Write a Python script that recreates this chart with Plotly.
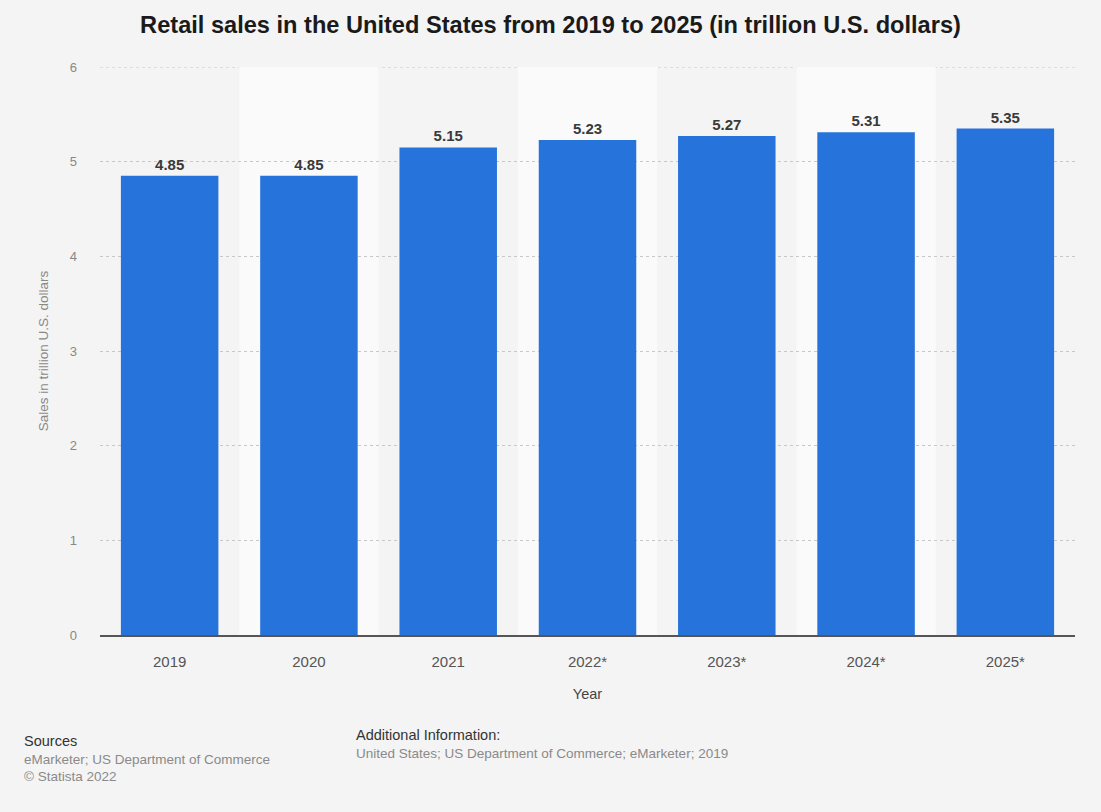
import plotly.graph_objects as go

years = ["2019", "2020", "2021", "2022*", "2023*", "2024*", "2025*"]
sales = [4.85, 4.85, 5.15, 5.23, 5.27, 5.31, 5.35]
y_ticks = [0, 1, 2, 3, 4, 5, 6]

BG = "#f4f4f4"
BAND = "#fafafa"
BAR = "#2673dc"
FONT = "Liberation Sans, Arial, sans-serif"

fig = go.Figure()
fig.add_trace(go.Bar(
    x=list(range(len(years))),
    y=sales,
    marker=dict(color=BAR, line=dict(width=0)),
    width=0.7,
    text=[f"{v:.2f}" for v in sales],
    textposition="outside",
    textfont=dict(family=FONT, size=15, color="#3a3a3a"),
    texttemplate="<b>%{text}</b>",
    cliponaxis=False,
    hoverinfo="skip",
))

# alternating column bands plus the top gridline
shapes = []
for i in range(len(years)):
    if i % 2 == 1:
        shapes.append(dict(type="rect", xref="x", yref="y", x0=i - 0.5, x1=i + 0.5,
                           y0=0, y1=max(y_ticks), fillcolor=BAND, line=dict(width=0), layer="below"))
shapes.append(dict(type="line", xref="paper", yref="y", x0=0, x1=1, y0=max(y_ticks), y1=max(y_ticks),
                   line=dict(color="#c8c8c8", width=1, dash="dot"), layer="below"))

fig.update_layout(
    width=1101, height=812,
    paper_bgcolor=BG, plot_bgcolor=BG,
    margin=dict(l=100, r=26, t=67, b=177),
    font=dict(family=FONT, color="#666666"),
    showlegend=False,
    shapes=shapes,
    title=dict(text="<b>Retail sales in the United States from 2019 to 2025 (in trillion U.S. dollars)</b>",
               x=0.5, xanchor="center", y=0.969, yanchor="middle",
               font=dict(size=23.6, color="#1a1a1a")),
)
fig.update_xaxes(
    range=[-0.5, len(years) - 0.5],
    tickmode="array", tickvals=list(range(len(years))), ticktext=years,
    tickfont=dict(size=15, color="#555555"),
    showgrid=False, zeroline=False,
    showline=True, linecolor="#555555", linewidth=2,
    ticks="", ticklabelstandoff=12,
    title=dict(text="Year", font=dict(size=14.5, color="#444444"), standoff=20),
)
fig.update_yaxes(
    range=[0, 6],
    tickmode="array", tickvals=y_ticks, ticktext=[str(t) for t in y_ticks],
    tickfont=dict(size=13, color="#888888"),
    showgrid=True, gridcolor="#c8c8c8", griddash="dot", gridwidth=1,
    zeroline=False, ticks="", ticklabelstandoff=22,
    title=dict(text="Sales in trillion U.S. dollars", font=dict(size=13.5, color="#888888"), standoff=18),
)

notes = [
    dict(text="Sources", x=22, y=741, size=14.5, color="#333333"),
    dict(text="eMarketer; US Department of Commerce", x=22, y=759, size=13.5, color="#8a8a8a"),
    dict(text="© Statista 2022", x=22, y=776, size=13.5, color="#8a8a8a"),
    dict(text="Additional Information:", x=354, y=735, size=14.5, color="#333333"),
    dict(text="United States; US Department of Commerce; eMarketer; 2019", x=354, y=754, size=13.5, color="#8a8a8a"),
]
for n in notes:
    fig.add_annotation(text=n["text"], xref="paper", yref="paper",
                       x=(n["x"] - 100) / (1101 - 126), y=(812 - 177 - n["y"]) / (812 - 244),
                       xanchor="left", yanchor="middle", showarrow=False,
                       font=dict(size=n["size"], color=n["color"]))

fig.write_html("out.html")
